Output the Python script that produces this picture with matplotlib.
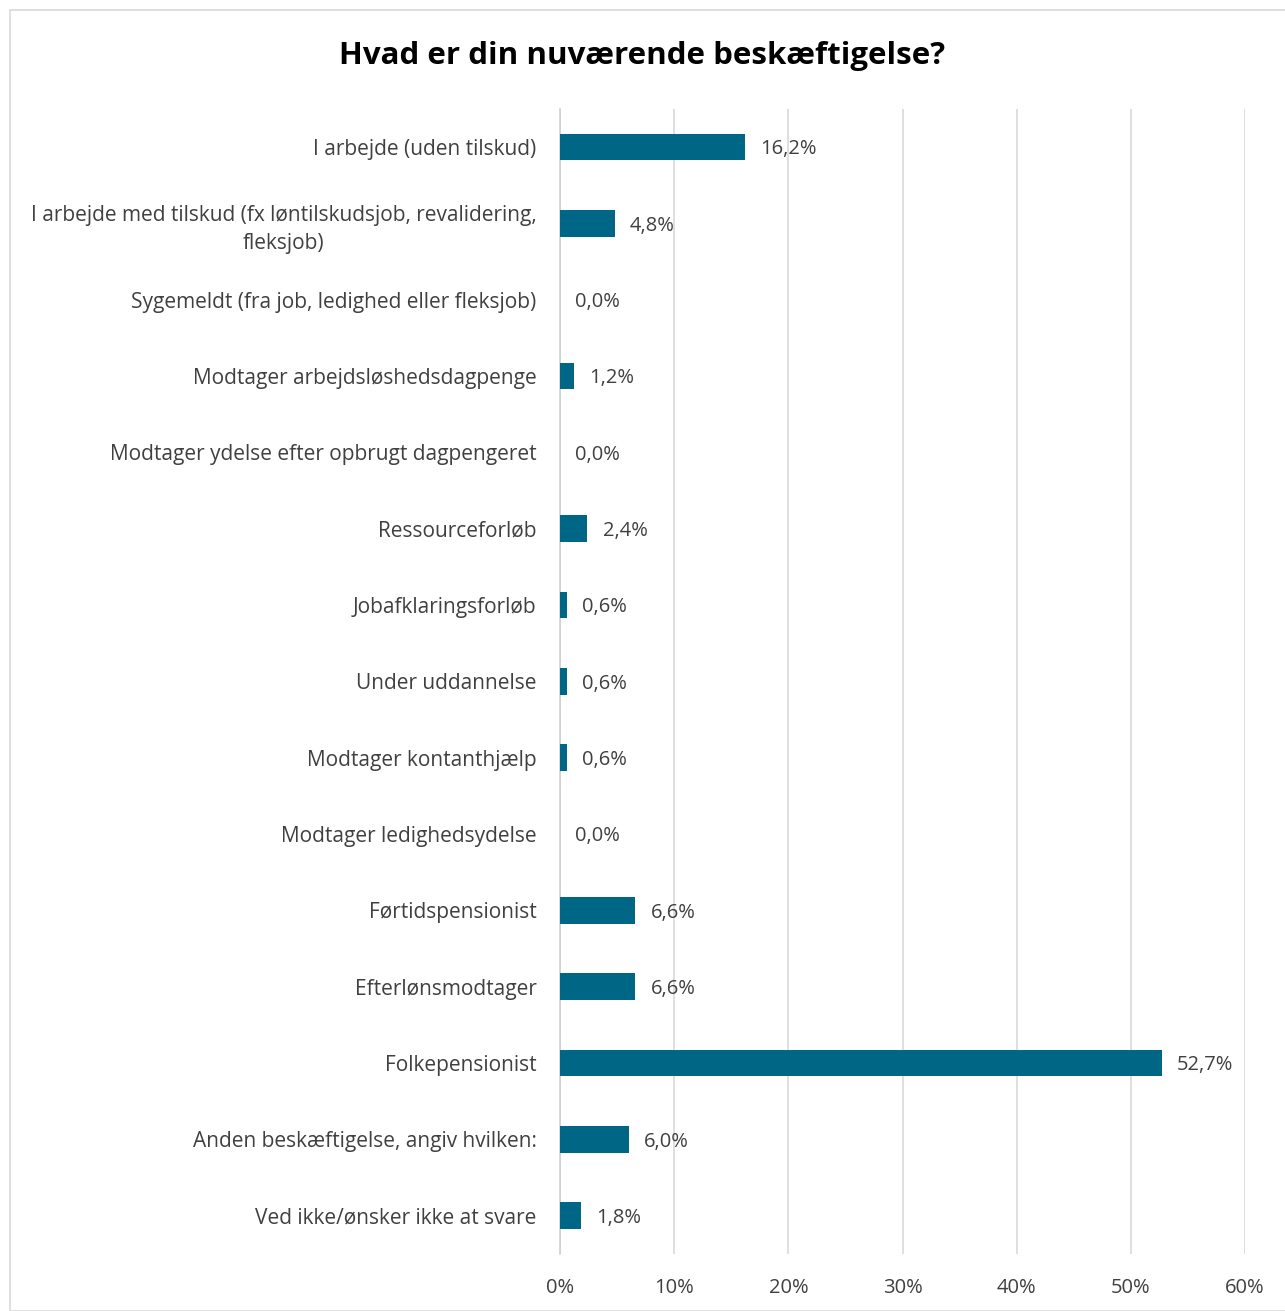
import matplotlib
matplotlib.use("Agg")
import matplotlib.pyplot as plt
from matplotlib.patches import Rectangle

categories = [
    "I arbejde (uden tilskud)",
    "I arbejde med tilskud (fx løntilskudsjob, revalidering,\nfleksjob)",
    "Sygemeldt (fra job, ledighed eller fleksjob)",
    "Modtager arbejdsløshedsdagpenge",
    "Modtager ydelse efter opbrugt dagpengeret",
    "Ressourceforløb",
    "Jobafklaringsforløb",
    "Under uddannelse",
    "Modtager kontanthjælp",
    "Modtager ledighedsydelse",
    "Førtidspensionist",
    "Efterlønsmodtager",
    "Folkepensionist",
    "Anden beskæftigelse, angiv hvilken:",
    "Ved ikke/ønsker ikke at svare",
]
values = [16.2, 4.8, 0.0, 1.2, 0.0, 2.4, 0.6, 0.6, 0.6, 0.0, 6.6, 6.6, 52.7, 6.0, 1.8]
xticks = [0, 10, 20, 30, 40, 50, 60]
title = "Hvad er din nuværende beskæftigelse?"

plt.rcParams['font.family'] = ['Open Sans', 'DejaVu Sans']
text_color = "#404040"
bar_color = "#006685"

fig = plt.figure(figsize=(12.85, 13.11), dpi=100)
ax = fig.add_axes([0.4358, 0.0435, 0.9689 - 0.4358, 0.9169 - 0.0435])

y = list(range(len(categories)))
ax.barh(y, values, height=0.35, color=bar_color, zorder=3)
ax.set_ylim(len(categories) - 0.5, -0.5)
ax.set_xlim(0, 60)
ax.set_yticks(y)
ax.set_yticklabels(categories, fontsize=15, color=text_color, ha='right')
for lab in ax.get_yticklabels():
    lab.set_multialignment('center')
    lab.set_linespacing(1.45)
ax.set_xticks(xticks)
ax.set_xticklabels([f"{t}%" for t in xticks], fontsize=14.5, color=text_color)
ax.tick_params(axis='y', length=0, pad=17)
ax.tick_params(axis='x', length=0, pad=17)
ax.grid(axis='x', color='#d9d9d9', linewidth=1.2, zorder=0)
for s in ['top', 'right', 'bottom']:
    ax.spines[s].set_visible(False)
ax.spines['left'].set_color('#d0d0d0')
ax.spines['left'].set_linewidth(1.2)

for yi, v in zip(y, values):
    ax.annotate(f"{v:.1f}%".replace('.', ','), xy=(v, yi), xytext=(11, -1.5),
                textcoords='offset points', va='center', ha='left',
                fontsize=14.5, color=text_color, zorder=4)

fig.text(0.5, 0.957, title, ha='center', va='center', fontsize=22.5,
         fontweight='bold', color='black')

fig.patches.append(Rectangle((10/1285, 0), 1 - 10/1285 + 0.01, 1 - 10/1311,
                             transform=fig.transFigure, fill=False,
                             edgecolor='#d9d9d9', linewidth=1.2))

fig.savefig("out.png", dpi=100, facecolor='white')
